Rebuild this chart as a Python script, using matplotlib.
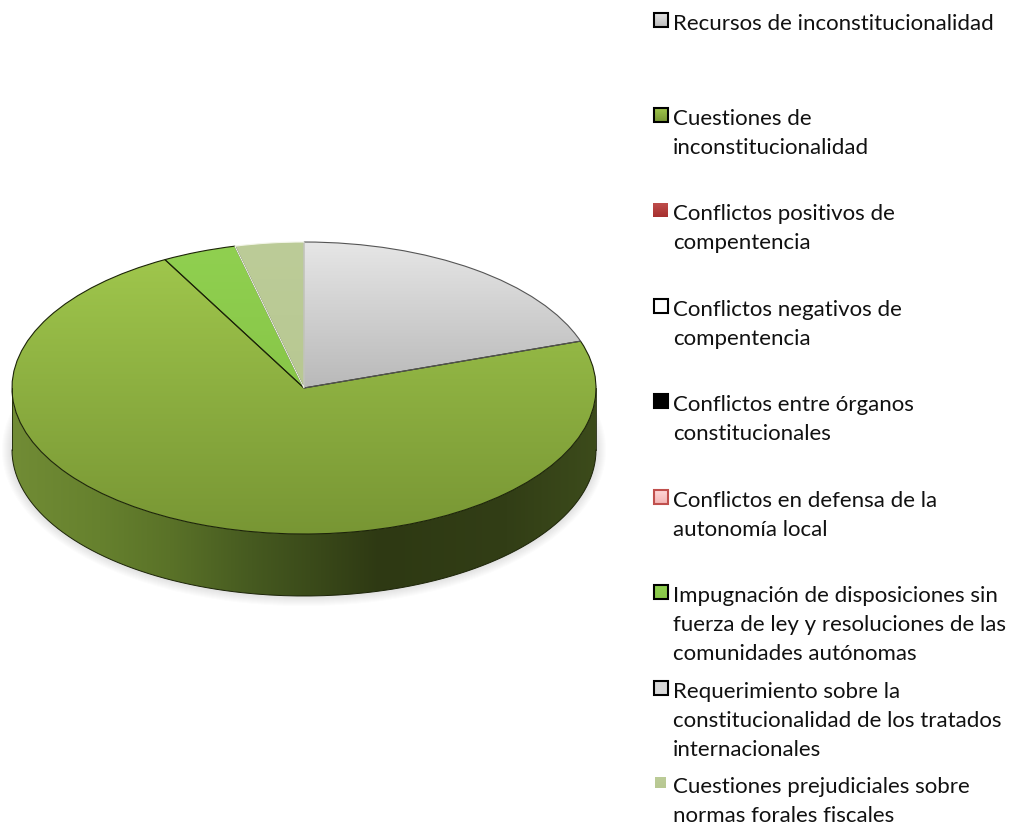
import numpy as np
import matplotlib
matplotlib.use("Agg")
import matplotlib.pyplot as plt
from matplotlib.colors import LinearSegmentedColormap
from matplotlib.patches import Ellipse, Polygon, Rectangle

# ----------- DATA ------------- #

labels = [
    ["Recursos de inconstitucionalidad"],
    ["Cuestiones de", "inconstitucionalidad"],
    ["Conflictos positivos de", "compentencia"],
    ["Conflictos negativos de", "compentencia"],
    ["Conflictos entre órganos", "constitucionales"],
    ["Conflictos en defensa de la", "autonomía local"],
    ["Impugnación de disposiciones sin", "fuerza de ley y resoluciones de las", "comunidades autónomas"],
    ["Requerimiento sobre la", "constitucionalidad de los tratados", "internacionales"],
    ["Cuestiones prejudiciales sobre", "normas forales fiscales"],
]
values = [19.8, 72.3, 0, 0, 0, 0, 4.1, 0, 3.8]

# top colour, bottom colour, edge colour of each slice
slice_top = ["#e6e6e6", "#9fc64c", "#c0504d", "#ffffff", "#000000", "#ffd8d8", "#90d050", "#d9d9d9", "#bccc98"]
slice_bot = ["#b9b9b9", "#789634", "#a62f2f", "#ffffff", "#000000", "#f4b4b4", "#88c648", "#d9d9d9", "#b8c892"]
slice_edge = ["#555555", "#1c2408", "#c0504d", "#000000", "#000000", "#c0504d", "#1c2408", "#000000", "#f2f5e8"]
swatch_edge = ["#000000", "#000000", None, "#000000", "#000000", "#c0504d", "#000000", "#000000", None]
swatch_size = [14, 14, 15, 14, 14, 14, 14, 14, 11]

wall_x = [0.0, 0.15, 0.27, 0.41, 0.63, 0.85, 1.0]
wall_colors = ["#718c35", "#66812e", "#5a7228", "#465a20", "#2e3913", "#323e16", "#3c4b1b"]

# ----------- LAYOUT (pixels) ------------- #

W, H = 1010, 828
cx, cy = 304, 389
rx, ry = 292, 146
depth = 62 / ry
first_baseline = [30, 125, 220, 316, 411, 507, 602, 698, 793]
line_gap = 29


def gradient(ax, clip, colors, extent, horizontal=False, stops=None, zorder=2):
    # paint a linear gradient and clip it to a patch
    if stops is None:
        stops = np.linspace(0, 1, len(colors))
    cmap = LinearSegmentedColormap.from_list("g", list(zip(stops, colors)))
    ramp = np.linspace(0, 1, 256)
    ramp = ramp.reshape(1, -1) if horizontal else ramp.reshape(-1, 1)
    im = ax.imshow(ramp, cmap=cmap, vmin=0, vmax=1, extent=extent, origin="upper",
                   aspect="auto", interpolation="bilinear", zorder=zorder)
    im.set_clip_path(clip)
    return im


fig = plt.figure(figsize=(W / 100, H / 100), dpi=100, facecolor="white")

# pie axes: one data unit is a radius, so the circle comes out as the flat ellipse
ax = fig.add_axes([0, 0, 1, 1])
wedges, _ = ax.pie(values, startangle=90, counterclock=False, radius=1, center=(0, 0))
ax.set_aspect("auto")
xlim = (-cx / rx, (W - cx) / rx)
ylim = ((cy - H) / ry, cy / ry)
ax.set_xlim(xlim)
ax.set_ylim(ylim)
ax.axis("off")

# soft shadow under the cake
for k in range(1, 11):
    e = Ellipse((0, -depth), 2 + 2 * k * 1.0 / rx, 2 + 2 * k * 1.0 / ry, fc="#505050",
                ec="none", alpha=0.016, zorder=0)
    ax.add_patch(e)

# side wall, the front half of the ellipse
t = np.radians(np.linspace(180, 360, 200))
wall_pts = np.vstack([np.c_[np.cos(t), np.sin(t)], np.c_[np.cos(t[::-1]), np.sin(t[::-1]) - depth]])
wall = Polygon(wall_pts, closed=True, fc="none", ec="none", zorder=1)
ax.add_patch(wall)
gradient(ax, wall, wall_colors, (-1, 1, -1 - depth, 0), horizontal=True, stops=wall_x, zorder=1)
ax.plot(np.cos(t), np.sin(t) - depth, color="#1c2408", lw=0.7, zorder=3)
ax.plot([-1, -1], [0, -depth], color="#1c2408", lw=0.6, zorder=3)
ax.plot([1, 1], [0, -depth], color="#1c2408", lw=0.6, zorder=3)

# top face
for i, w in enumerate(wedges):
    w.set_facecolor("none")
    w.set_edgecolor("none")
    w.set_zorder(2)
    if values[i] == 0:
        continue
    # gradient runs over the height of the slice only
    a = np.radians(np.linspace(w.theta1, w.theta2, 100))
    ytop = max(np.sin(a).max(), 0)
    ybot = min(np.sin(a).min(), 0)
    gradient(ax, w, [slice_top[i], slice_bot[i]], (-1, 1, ybot, ytop), zorder=2)
for i, w in enumerate(wedges):
    if values[i] == 0:
        continue
    w.set_edgecolor(slice_edge[i])
    w.set_linewidth(0.8)
    w.set_zorder(4 if i in (0, 8) else 3)

# legend, in pixel coordinates
lax = fig.add_axes([0, 0, 1, 1])
lax.set_xlim(0, W)
lax.set_ylim(H, 0)
lax.axis("off")
lax.patch.set_alpha(0)
for i, lines in enumerate(labels):
    base = first_baseline[i]
    s = swatch_size[i]
    x0 = 660.5 - s / 2
    y0 = base - 9 - s / 2
    box = Rectangle((x0, y0), s, s, fc="none", ec="none", zorder=2)
    lax.add_patch(box)
    gradient(lax, box, [slice_top[i], slice_bot[i]], (x0, x0 + s, y0 + s, y0), zorder=2)
    if swatch_edge[i] is not None:
        lax.add_patch(Rectangle((x0, y0), s, s, fc="none", ec=swatch_edge[i], lw=1.5, zorder=3))
    for j, line in enumerate(lines):
        lax.text(673, base + j * line_gap, line, family="Lato", fontsize=16,
                 color="#111111", va="baseline", ha="left")
lax.set_xlim(0, W)
lax.set_ylim(H, 0)

fig.savefig("out.png", dpi=100)
